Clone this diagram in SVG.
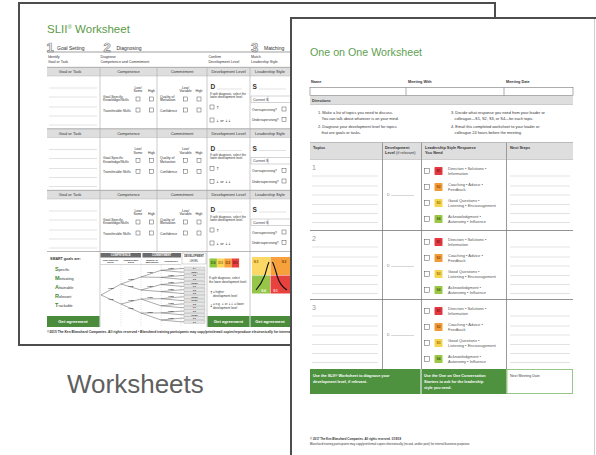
<svg xmlns="http://www.w3.org/2000/svg" width="596" height="455" viewBox="0 0 596 455">
<style>
text{font-family:"Liberation Sans",Arial,sans-serif}
.ar{font-family:"DejaVu Sans",sans-serif}
.b{font-weight:bold}
.m{text-anchor:middle}
.ln{stroke:#c4c4c4;stroke-width:.5;fill:none}
.col{stroke:#aaa;stroke-width:.6;fill:none}
.cb{fill:#fff;stroke:#444;stroke-width:.45}
.band{fill:#dedede}
.ga{fill:#4b8c3c}
.gat{fill:#fff;font-weight:bold;font-size:4.2px;text-anchor:middle}
.tr{stroke:#444;stroke-width:.45;fill:none}
.tl{font-size:2.4px;font-weight:bold;fill:#222;text-anchor:middle}
.lf{fill:#e4e4e4;stroke:#999;stroke-width:.3}
.lft{font-size:2.2px;font-weight:bold;fill:#333;text-anchor:middle}
.opt{font-size:4px;fill:#555}
.bd{font-size:3.2px;font-weight:bold;text-anchor:middle}
.wt{fill:#fff;font-weight:bold;font-size:3.8px}
</style>
<defs>
<g id="slrow">
<rect x="47" y="0" width="253" height="9" class="band"/>
<line x1="47" y1="0.3" x2="300" y2="0.3" stroke="#888" stroke-width=".6"/>
<line x1="47" y1="9" x2="300" y2="9" stroke="#aaa" stroke-width=".4"/>
<g font-size="4">
<text x="70" y="6" class="m">Goal or Task</text>
<text x="128.5" y="6" class="m">Competence</text>
<text x="182" y="6" class="m">Commitment</text>
<text x="228.5" y="6" class="m">Development Level</text>
<text x="270" y="6" class="m">Leadership Style</text>
</g>
<path class="col" d="M100,0V61.5M157,0V61.5M207,0V61.5M250,0V61.5"/>
<path class="ln" d="M49,21H97M49,30H97M49,40H97M49,49H97M49,58H97"/>
<g font-size="3.4">
<text x="138" y="21.5" class="m">Low/</text><text x="138" y="25" class="m">Some</text><text x="151.5" y="25" class="m">High</text>
<text x="103" y="30.5">Goal-Specific</text><text x="103" y="34">Knowledge/Skills</text>
<text x="103" y="44.5">Transferable Skills</text>
<text x="185.5" y="21.5" class="m">Low/</text><text x="185.5" y="25" class="m">Variable</text><text x="199" y="25" class="m">High</text>
<text x="160" y="30.5">Quality of</text><text x="160" y="34">Motivation</text>
<text x="160" y="44.5">Confidence</text>
</g>
<rect class="cb" x="136" y="30" width="4" height="4"/><rect class="cb" x="149.5" y="30" width="4" height="4"/>
<rect class="cb" x="136" y="41" width="4" height="4"/><rect class="cb" x="149.5" y="41" width="4" height="4"/>
<rect class="cb" x="183.5" y="30" width="4" height="4"/><rect class="cb" x="197" y="30" width="4" height="4"/>
<rect class="cb" x="183.5" y="41" width="4" height="4"/><rect class="cb" x="197" y="41" width="4" height="4"/>
<text x="210.5" y="22" font-size="6.5" class="b">D</text><line x1="217" y1="22" x2="242" y2="22" class="ln"/>
<text x="210" y="27.5" font-size="3">If split diagnosis, select the</text><text x="210" y="30.5" font-size="3">lower development level.</text>
<rect class="cb" x="210" y="38" width="4" height="4"/><text x="216" y="41.7" font-size="4" class="ar">↑</text>
<rect class="cb" x="210" y="51" width="4" height="4"/><text x="216" y="54.7" font-size="3.6" class="ar">↓ or ↓↓</text>
<text x="252.5" y="22" font-size="6.5" class="b">S</text><line x1="259" y1="22" x2="286" y2="22" class="ln"/>
<rect x="251" y="29" width="49" height="6.5" fill="none" stroke="#aaa" stroke-width=".5"/>
<line x1="268" y1="29" x2="268" y2="35.5" stroke="#aaa" stroke-width=".5"/>
<text x="253" y="33.6" font-size="3.6">Current S</text>
<text x="252" y="43.5" font-size="3.2">Oversupervising?</text><rect class="cb" x="282" y="40" width="4" height="4"/>
<text x="252" y="54" font-size="3.2">Undersupervising?</text><rect class="cb" x="282" y="50.5" width="4" height="4"/>
</g>
<g id="oorow">
<path class="ln" d="M312,16.5H378M312,26.5H378M312,35.5H378M312,45H378M312,54H378M312,63H378M510,16.5H570M510,26.5H570M510,35.5H570M510,45H570M510,54H570M510,63H570"/>
<text x="387" y="36" font-size="3.5" fill="#777">D</text>
<line x1="391" y1="36" x2="414" y2="36" stroke="#999" stroke-width=".4"/>
<rect class="cb" x="424.5" y="9" width="5" height="5"/>
<rect x="434.5" y="7.5" width="8" height="8" rx=".8" fill="#e2383f"/>
<text class="bd" x="438.5" y="12.7" fill="#7a1418">S1</text>
<text class="opt" x="448" y="10">Direction • Solutions •</text><text class="opt" x="448" y="15.5">Information</text>
<rect class="cb" x="424.5" y="25" width="5" height="5"/>
<rect x="434.5" y="23.5" width="8" height="8" rx=".8" fill="#f29a38"/>
<text class="bd" x="438.5" y="28.7" fill="#8a4b00">S2</text>
<text class="opt" x="448" y="26">Coaching • Advice •</text><text class="opt" x="448" y="31.5">Feedback</text>
<rect class="cb" x="424.5" y="41" width="5" height="5"/>
<rect x="434.5" y="39.5" width="8" height="8" rx=".8" fill="#f7d44f"/>
<text class="bd" x="438.5" y="44.7" fill="#8a6d00">S3</text>
<text class="opt" x="448" y="42">Good Questions •</text><text class="opt" x="448" y="47.5">Listening • Encouragement</text>
<rect class="cb" x="424.5" y="57" width="5" height="5"/>
<rect x="434.5" y="55.5" width="8" height="8" rx=".8" fill="#9bc747"/>
<text class="bd" x="438.5" y="60.7" fill="#3d5c12">S4</text>
<text class="opt" x="448" y="58">Acknowledgment •</text><text class="opt" x="448" y="63.5">Autonomy • Influence</text>
</g>
</defs>
<rect width="596" height="455" fill="#fff"/>
<g fill="#333">
<g id="sheet-slii">
<rect x="19" y="3" width="476" height="342" fill="#fff" stroke="#4d4d4d" stroke-width="2"/>
<text x="47" y="33" font-size="11.5" fill="#5b9a48">SLII<tspan font-size="6" dy="-4">®</tspan><tspan dy="4"> Worksheet</tspan></text>
<g font-size="13" class="b" fill="#fff" stroke="#8c8c8c" stroke-width=".7">
<text x="46.5" y="51.5">1</text><text x="103.5" y="51.5">2</text><text x="251" y="51.5">3</text>
</g>
<g font-size="5">
<text x="57" y="49.5">Goal Setting</text><text x="116.5" y="49.5">Diagnosing</text><text x="264" y="49.5">Matching</text>
</g>
<line x1="47" y1="52" x2="300" y2="52" stroke="#777" stroke-width=".7"/>
<g font-size="3.6">
<text x="48" y="58">Identify</text><text x="48" y="62.5">Goal or Task</text>
<text x="100.5" y="58">Diagnose</text><text x="100.5" y="62.5">Competence and Commitment</text>
<text x="208.5" y="58">Confirm</text><text x="208.5" y="62.5">Development Level</text>
<text x="251" y="58">Match</text><text x="251" y="62.5">Leadership Style</text>
</g>
<use href="#slrow" y="67"/>
<use href="#slrow" y="128.5"/>
<use href="#slrow" y="190"/>
<line x1="47" y1="251.5" x2="300" y2="251.5" stroke="#888" stroke-width=".6"/>
<path class="col" d="M100,251.5V327M207,251.5V327M250,251.5V327"/>
<text x="50" y="260" font-size="3.6" class="b">SMART goals are:</text>
<g font-size="3.8">
<text x="55" y="270.5"><tspan font-size="5.5" class="b" fill="#3f8a3a">S</tspan>pecific</text>
<text x="55" y="279.5"><tspan font-size="5.5" class="b" fill="#3f8a3a">M</tspan>otivating</text>
<text x="55" y="288.5"><tspan font-size="5.5" class="b" fill="#3f8a3a">A</tspan>ttainable</text>
<text x="55" y="297.5"><tspan font-size="5.5" class="b" fill="#3f8a3a">R</tspan>elevant</text>
<text x="55" y="306.5"><tspan font-size="5.5" class="b" fill="#3f8a3a">T</tspan>rackable</text>
</g>
<rect x="47" y="316" width="52.5" height="11" class="ga"/><text x="73" y="323" class="gat">Get agreement</text>
<rect x="207.5" y="316" width="42" height="11" class="ga"/><text x="228.5" y="323" class="gat">Get agreement</text>
<rect x="250.5" y="316" width="49.5" height="11" class="ga"/><text x="270" y="323" class="gat">Get agreement</text>
<g id="tree">
<rect x="100.5" y="253" width="40.5" height="4.5" fill="#6b6b6b"/>
<text x="120.7" y="256.4" font-size="2.8" class="m b" fill="#fff">COMPETENCE</text>
<rect x="142.5" y="253" width="38.5" height="4.5" fill="#6b6b6b"/>
<text x="161.7" y="256.4" font-size="2.8" class="m b" fill="#fff">COMMITMENT</text>
<rect x="182" y="253" width="24" height="11" fill="#fff" stroke="#999" stroke-width=".4"/>
<text x="194" y="257" font-size="2.6" class="m b">DEVELOPMENT</text>
<text x="194" y="261.5" font-size="2.8" class="m">LEVEL</text>
<g font-size="2.5" class="m b">
<text x="110.5" y="260.5">Goal-specific</text><text x="110.5" y="263.3">Skills</text>
<text x="131" y="260.5">Transferable</text><text x="131" y="263.3">Skills</text>
<text x="152" y="260.5">Quality of</text><text x="152" y="263.3">Motivation</text>
<text x="171" y="262">Confidence</text>
</g>
<line x1="100.5" y1="264.5" x2="181" y2="264.5" stroke="#999" stroke-width=".4"/>
<path d="M121,265V327M141,253V327M161,265V327M181,265V327" stroke="#bbb" stroke-width=".4" stroke-dasharray="1 1" fill="none"/>
<path class="tr" d="M101,295L121,284M101,295L121,304M121,284L141,277M121,284L141,290M121,304L141,299M121,304L141,313M141,277L161,270.3M141,277L161,277.4M141,290L161,284.5M141,290L161,291.6M141,299L161,298.7M141,299L161,305.8M141,313L161,312.9M141,313L161,320M161,270.3L181,268.5H184M161,270.3L181,272.1H184M161,277.4L181,275.6H184M161,277.4L181,279.2H184M161,284.5L181,282.7H184M161,284.5L181,286.3H184M161,291.6L181,289.8H184M161,291.6L181,293.4H184M161,298.7L181,296.9H184M161,298.7L181,300.5H184M161,305.8L181,304H184M161,305.8L181,307.6H184M161,312.9L181,311.1H184M161,312.9L181,314.7H184M161,320L181,318.2H184M161,320L181,321.8H184"/>
<text class="tl" x="111" y="289">High</text><text class="tl" x="111" y="300.3">Low</text>
<text class="tl" x="131" y="280">High</text><text class="tl" x="131" y="287.3">Low</text>
<text class="tl" x="131" y="301">High</text><text class="tl" x="131" y="309">Low</text>
<text class="tl" x="150" y="273">High</text><text class="tl" x="150" y="286.7">High</text>
<text class="tl" x="150" y="298.4">High</text><text class="tl" x="150" y="312.5">High</text>
<text class="tl" x="171" y="268.9">High</text><text class="tl" x="171" y="276">High</text>
<text class="tl" x="171" y="283.1">High</text><text class="tl" x="171" y="290.2">High</text>
<text class="tl" x="171" y="297.3">High</text><text class="tl" x="171" y="304.4">High</text>
<text class="tl" x="171" y="311.5">High</text><text class="tl" x="171" y="318.6">High</text>
<g>
<rect class="lf" x="184" y="267" width="21" height="3"/><rect class="lf" x="184" y="270.6" width="21" height="3"/>
<rect class="lf" x="184" y="274.1" width="21" height="3"/><rect class="lf" x="184" y="277.7" width="21" height="3"/>
<rect class="lf" x="184" y="281.2" width="21" height="3"/><rect class="lf" x="184" y="284.8" width="21" height="3"/>
<rect class="lf" x="184" y="288.3" width="21" height="3"/><rect class="lf" x="184" y="291.9" width="21" height="3"/>
<rect class="lf" x="184" y="295.4" width="21" height="3"/><rect class="lf" x="184" y="299" width="21" height="3"/>
<rect class="lf" x="184" y="302.5" width="21" height="3"/><rect class="lf" x="184" y="306.1" width="21" height="3"/>
<rect class="lf" x="184" y="309.6" width="21" height="3"/><rect class="lf" x="184" y="313.2" width="21" height="3"/>
<rect class="lf" x="184" y="316.7" width="21" height="3"/><rect class="lf" x="184" y="320.3" width="21" height="3"/>
</g>
<text class="lft" x="194.5" y="269.3">D4</text><text class="lft" x="194.5" y="272.9">D3/D4</text>
<text class="lft" x="194.5" y="276.4">D3</text><text class="lft" x="194.5" y="280">D3</text>
<text class="lft" x="194.5" y="283.5">D2/D3</text><text class="lft" x="194.5" y="287.1">D2</text>
<text class="lft" x="194.5" y="290.6">D3</text><text class="lft" x="194.5" y="294.2">D2</text>
<text class="lft" x="194.5" y="297.7">D2/D3</text><text class="lft" x="194.5" y="301.3">D1/D2</text>
<text class="lft" x="194.5" y="304.8">D2</text><text class="lft" x="194.5" y="308.4">D1</text>
<text class="lft" x="194.5" y="311.9">D2</text><text class="lft" x="194.5" y="315.5">D1/D2</text>
<text class="lft" x="194.5" y="319">D1</text><text class="lft" x="194.5" y="322.6">D1</text>
</g>
<rect x="209.5" y="258.5" width="7.4" height="9" fill="#8dc63f"/>
<rect x="216.9" y="258.5" width="7.4" height="9" fill="#fcd55b"/>
<rect x="224.3" y="258.5" width="7.4" height="9" fill="#f6a13a"/>
<rect x="231.7" y="258.5" width="7.4" height="9" fill="#e6403f"/>
<g font-size="3.8" class="b m">
<text x="213.2" y="264.4" fill="#4d6b1a">D4</text><text x="220.6" y="264.4" fill="#a0741b">D3</text>
<text x="228" y="264.4" fill="#8a4b00">D2</text><text x="235.4" y="264.4" fill="#7a1418">D1</text>
</g>
<g font-size="3">
<text x="209" y="279">If split diagnosis, select</text><text x="209" y="282.8">the lower development level.</text>
<text x="209.5" y="294" font-size="4.2" class="ar">↑</text><text x="213" y="292.8">= higher</text><text x="213" y="296.6">development level</text>
<text x="209.5" y="306.6" font-size="4.2" class="ar">↓</text><text x="213" y="305.4">= e.g. <tspan class="ar">↓</tspan> or <tspan class="ar">↓↓</tspan> = lower</text><text x="213" y="309.2">development level</text>
</g>
<rect x="252" y="257" width="18" height="18" fill="#fcd866"/>
<rect x="270.5" y="257" width="20" height="18" fill="#f6a13c"/>
<rect x="252" y="275.5" width="18" height="18" fill="#95c64a"/>
<rect x="270.5" y="275.5" width="20" height="18" fill="#e8423f"/>
<g font-size="4" class="b">
<text x="253.5" y="262.5" fill="#9a6b00">S3</text><text x="281.5" y="262.5" fill="#8a4a00">S2</text>
<text x="261" y="291.5" fill="#eaf3d5">S4</text><text x="273" y="291.5" fill="#fbd0cf">S1</text>
</g>
<path d="M256,290 C259.5,286 262.5,281 264.5,276 S267,266 269,262" stroke="#111" stroke-width="1.1" fill="none"/>
<path d="M272.5,262 C274.5,266 276,272 277.5,277 S282,287 287,290" stroke="#111" stroke-width="1.1" fill="none"/>
<text x="47" y="333" font-size="3.3" class="b">©2015 The Ken Blanchard Companies. All rights reserved • Blanchard training participants may copy/print/email copies/reproduce electronically for internal business purposes.</text>
</g>
<g id="sheet-one-on-one">
<rect x="291" y="18" width="310" height="450" fill="#fff" stroke="#4d4d4d" stroke-width="2"/>
<line x1="594.5" y1="19" x2="594.5" y2="455" stroke="#cfcfcf" stroke-width="1"/>
<text x="310" y="56" font-size="10.7" fill="#5fa052">One on One Worksheet</text>
<g font-size="3.8" class="b">
<text x="311" y="83">Name</text><text x="408" y="83">Meeting With</text><text x="506" y="83">Meeting Date</text>
</g>
<rect x="310" y="87.5" width="263" height="8" fill="#fff" stroke="#777" stroke-width=".6"/>
<path d="M406,87.5V95.5M504,87.5V95.5" stroke="#777" stroke-width=".6"/>
<rect x="310" y="96" width="263" height="8.5" class="band"/>
<text x="312" y="101.6" font-size="3.8" class="b">Directions</text>
<line x1="310" y1="104.5" x2="573" y2="104.5" stroke="#aaa" stroke-width=".5"/>
<g font-size="3.9">
<text x="318" y="114">1. Make a list of topics you need to discuss.</text>
<text x="321.5" y="119.5">You can talk about whatever is on your mind.</text>
<text x="318" y="128">2. Diagnose your development level for topics</text>
<text x="321.5" y="133.5">that are goals or tasks.</text>
<text x="451" y="114">3. Decide what response you need from your leader or</text>
<text x="454.5" y="119.5">colleague—S1, S2, S3, or S4—for each topic.</text>
<text x="451" y="128">4. Email this completed worksheet to your leader or</text>
<text x="454.5" y="133.5">colleague 24 hours before the meeting.</text>
</g>
<rect x="310" y="142.5" width="263" height="17" class="band"/>
<line x1="310" y1="142.5" x2="573" y2="142.5" stroke="#999" stroke-width=".6"/>
<line x1="310" y1="159.5" x2="573" y2="159.5" stroke="#aaa" stroke-width=".5"/>
<g font-size="3.9" class="b">
<text x="313" y="149">Topics</text>
<text x="385" y="149">Development</text>
<text x="385" y="154">Level <tspan font-weight="normal">(if relevant)</tspan></text>
<text x="425" y="149">Leadership Style Response</text>
<text x="425" y="154">You Need</text>
<text x="510" y="149">Next Steps</text>
</g>
<path d="M382.5,142.5V369M421.5,142.5V369M506.5,142.5V369" stroke="#9a9a9a" stroke-width="1" fill="none"/>
<path d="M310,230.5H573M310,299.5H573" stroke="#777" stroke-width=".8" fill="none"/>
<use href="#oorow" y="159.5"/>
<use href="#oorow" y="230.5"/>
<use href="#oorow" y="299.5"/>
<g font-size="7" fill="#999">
<text x="312" y="169.5">1</text><text x="312" y="240.5">2</text><text x="312" y="309.5">3</text>
</g>
<rect x="310" y="369" width="110.5" height="25" fill="#4e9240"/>
<rect x="421.5" y="369" width="85" height="25" fill="#4e9240"/>
<rect x="507" y="369.4" width="65.6" height="24.2" fill="#fff" stroke="#7fb86d" stroke-width=".8"/>
<text x="313" y="376.5" class="wt">Use the SLII® Worksheet to diagnose your</text>
<text x="313" y="382.5" class="wt">development level, if relevant.</text>
<text x="424" y="376.5" class="wt">Use the One on One Conversation</text>
<text x="424" y="382.5" class="wt">Starters to ask for the leadership</text>
<text x="424" y="388.5" class="wt">style you need.</text>
<text x="510" y="376.5" font-size="3.6" fill="#444">Next Meeting Date</text>
<text x="310" y="439.5" font-size="2.9" class="b">© 2017 The Ken Blanchard Companies. All rights reserved. 1/19/18</text>
<text x="310" y="445" font-size="2.9">Blanchard training participants may copy/print/email copies electronically (record, and/or post) for internal business purposes.</text>
</g>
<g id="label">
<text x="67" y="393" font-size="26" fill="#5f5f5f">Worksheets</text>
</g>
</g>
</svg>
